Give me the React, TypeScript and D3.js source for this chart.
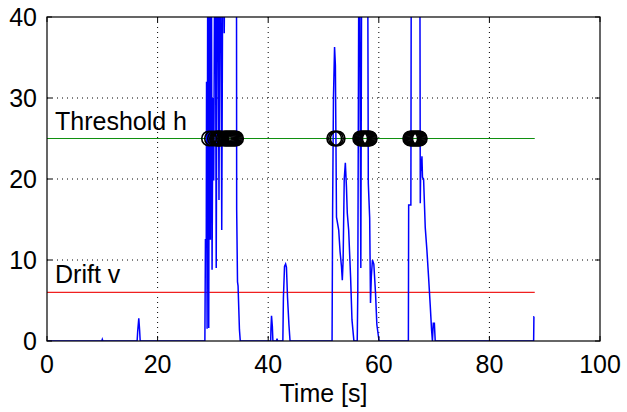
import React from "react";
import * as d3 from "d3";

// Test statistic g(t) sampled values (time in s, value)
const timeS: number[] = [
  0, 9.9, 10.0, 10.1, 16.3, 16.4, 16.6, 16.75, 16.85,
  28.55, 28.65, 28.8, 28.85, 28.95, 29.1, 29.25, 29.4, 29.55, 29.7, 29.85, 30.0, 30.15, 30.4, 30.6, 30.85, 31.1, 31.35, 31.6, 31.85, 32.05, 32.3, 34.25, 34.3, 34.45, 34.55, 34.8, 34.95,
  40.45, 40.5, 40.6, 40.75, 40.85, 41.5, 41.6, 41.7,
  42.65, 42.75, 42.95, 43.15, 43.3, 43.5, 43.75, 43.95,
  51.55, 51.65, 51.8, 52.0, 52.15, 52.35, 52.75, 53.0, 53.25, 53.4, 53.55, 53.75, 53.95, 54.15, 54.3, 54.55, 54.9, 55.15, 55.5,
  56.1, 56.2, 56.45, 56.75, 56.95, 57.95, 58.1, 58.35, 58.5, 58.65, 58.85, 59.1, 59.4, 59.65, 60.05,
  65.35, 65.4, 65.8, 65.9, 67.4, 67.5, 67.6, 67.7, 67.8, 67.9, 68.1, 68.4, 68.7, 69.0, 69.3, 69.55, 69.7, 69.85, 70.05, 70.2,
  88.0, 88.05, 88.1,
];
const statG: number[] = [
  0, 0, 0.2, 0, 0, 1.2, 2.8, 1.3, 0,
  0, 12.5, 12.5, 32, 1.5, 60, 1.6, 60, 12.5, 60, 8.8, 30, 19.8, 60, 9, 60, 17.4, 60, 13.7, 60, 38, 60, 60, 16.2, 7.3, 6.8, 1.4, 0,
  0, 1.5, 3.1, 1.8, 0, 0, 0.3, 0,
  0, 5.3, 9.2, 9.5, 9.1, 5.3, 2, 0,
  0, 16.2, 30, 36.3, 34, 15.3, 13.7, 11, 9.2, 7.5, 10, 20, 22, 19, 15.8, 13.7, 7.9, 2.6, 0,
  0, 6, 60, 9, 60, 60, 19.5, 15.2, 4.7, 8, 10, 9.5, 6, 2, 0,
  0, 16.8, 16.8, 60, 60, 17, 22.5, 21, 22.8, 20.2, 20, 14, 11.2, 7.9, 4.4, 1.3, 0, 2.2, 2.2, 0,
  0, 3, 3,
];

// Alarm times (markers drawn on the threshold line)
const alarmTimes: number[] = [
  29.3, 29.84, 30.38, 30.74, 30.92, 31.1, 31.28, 31.46,
  32.0, 32.2, 32.4, 32.6, 32.8, 33.0, 33.2, 33.4, 33.6, 33.8, 34.0, 34.18,
  51.95, 52.25, 52.55,
  56.65, 56.85, 57.05, 57.25, 57.45, 57.65, 57.85, 58.05, 58.25, 58.35,
  65.7, 65.9, 66.1, 66.3, 66.5, 66.7, 66.9, 67.1, 67.3, 67.4,
];

const thresholdH = 25;
const driftV = 6;
const lineEnd = 88.2;
const xTicks = [0, 20, 40, 60, 80, 100];
const yTicks = [0, 10, 20, 30, 40];

export default function App() {
  const W = 627, H = 412;
  const L = 47, R = 600, T = 17, B = 341;
  const x = d3.scaleLinear().domain([0, 100]).range([L, R]);
  const y = d3.scaleLinear().domain([0, 40]).range([B, T]);
  const pts: [number, number][] = timeS.map((t, i) => [t, statG[i]]);
  const line = d3.line<[number, number]>().x(d => x(d[0])).y(d => y(d[1]));
  const font = "'Liberation Sans', Arial, Helvetica, sans-serif";
  const fs = 25;
  return (
    <svg width={W} height={H} style={{ position: "absolute", left: 0, top: 0, background: "#fff" }} fontFamily={font}>
      <defs>
        <clipPath id="plotclip">
          <rect x={L} y={T} width={R - L} height={B - T} />
        </clipPath>
      </defs>
      <rect x={0} y={0} width={W} height={H} fill="#fff" />
      {/* grid */}
      {xTicks.filter(t => t > 0 && t < 100).map(t => (
        <line key={"gx" + t} x1={x(t)} x2={x(t)} y1={T} y2={B} stroke="#000" strokeWidth={1} strokeDasharray="1,4" />
      ))}
      {yTicks.filter(t => t > 0 && t < 40).map(t => (
        <line key={"gy" + t} x1={L} x2={R} y1={y(t)} y2={y(t)} stroke="#000" strokeWidth={1} strokeDasharray="1,4" />
      ))}
      {/* threshold and drift */}
      <line x1={x(0)} x2={x(lineEnd)} y1={y(thresholdH)} y2={y(thresholdH)} stroke="#109010" strokeWidth={1.2} />
      <line x1={x(0)} x2={x(lineEnd)} y1={y(driftV)} y2={y(driftV)} stroke="#f02020" strokeWidth={1.2} />
      {/* signal */}
      <g clipPath="url(#plotclip)">
        <path d={line(pts) || ""} fill="none" stroke="#0000ff" strokeWidth={1.5} />
      </g>
      {/* alarms */}
      {alarmTimes.map((t, i) => (
        <circle key={"a" + i} cx={x(t)} cy={y(thresholdH)} r={7.3} fill="none" stroke="#000" strokeWidth={1.6} />
      ))}
      {/* frame */}
      <rect x={L} y={T} width={R - L} height={B - T} fill="none" stroke="#000" strokeWidth={1.2} />
      {xTicks.map(t => (
        <g key={"tx" + t}>
          <line x1={x(t)} x2={x(t)} y1={B} y2={B - 5} stroke="#000" />
          <line x1={x(t)} x2={x(t)} y1={T} y2={T + 5} stroke="#000" />
          <text x={x(t)} y={373} textAnchor="middle" fontSize={fs}>{t}</text>
        </g>
      ))}
      {yTicks.map(t => (
        <g key={"ty" + t}>
          <line x1={L} x2={L + 5} y1={y(t)} y2={y(t)} stroke="#000" />
          <line x1={R} x2={R - 5} y1={y(t)} y2={y(t)} stroke="#000" />
          <text x={37} y={y(t)} textAnchor="end" dominantBaseline="central" fontSize={fs}>{t}</text>
        </g>
      ))}
      <text x={(L + R) / 2} y={402} textAnchor="middle" fontSize={fs}>Time [s]</text>
      <text x={55} y={130} fontSize={fs}>Threshold h</text>
      <text x={55} y={283} fontSize={fs}>Drift v</text>
    </svg>
  );
}
